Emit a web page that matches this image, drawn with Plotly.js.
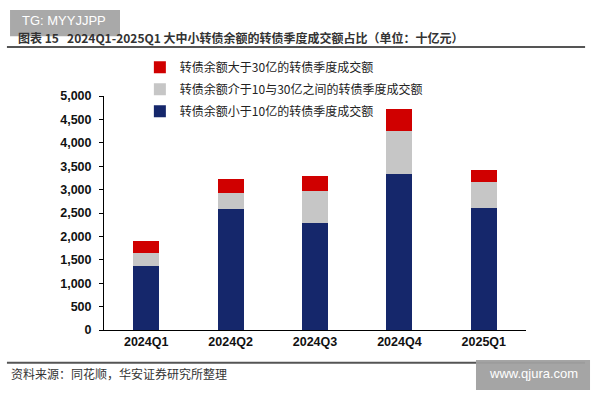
<!DOCTYPE html>
<html>
<head>
<meta charset="utf-8">
<script src="https://cdn.plot.ly/plotly-3.0.1.min.js"></script>
<style>
  html, body { margin: 0; padding: 0; background: #fff; }
  #grafico { width: 600px; height: 400px; }
</style>
</head>
<body>
<div id="grafico"></div>
<script>
"use strict";

// Categorías y valores (十亿元)
const trimestres = ['2024Q1', '2024Q2', '2024Q3', '2024Q4', '2025Q1'];
const menos10 = [1370, 2590, 2290, 3340, 2610];   // 小于10亿
const entre10y30 = [280, 333, 690, 920, 548];     // 介于10与30亿之间
const mas30 = [248, 294, 306, 470, 256];          // 大于30亿

const nombres = [
    '转债余额小于10亿的转债季度成交额',
    '转债余额介于10与30亿之间的转债季度成交额',
    '转债余额大于30亿的转债季度成交额'
];
const colores = ['#15276b', '#c6c6c6', '#d00000'];
const series = [menos10, entre10y30, mas30];

const fuenteCJK = '"Noto Sans CJK SC", "Noto Sans", sans-serif';
const fuenteNum = '"Liberation Sans", Arial, sans-serif';

// La leyenda va al revés del apilado: rojo arriba, azul abajo
const trazas = series.map((valores, i) => ({
    x: trimestres,
    y: valores,
    type: 'bar',
    name: nombres[i],
    legendgroup: 'g' + i,
    legendrank: 10 - i,
    marker: { color: colores[i] },
    hoverinfo: 'none'
}));

const layout = {
    width: 600,
    height: 400,
    barmode: 'stack',
    bargap: 0.69,
    margin: { l: 104, r: 74, t: 96, b: 70 },
    paper_bgcolor: '#ffffff',
    plot_bgcolor: '#ffffff',
    showlegend: true,
    legend: {
        x: 0.085, y: 1.185, xanchor: 'left', yanchor: 'top',
        traceorder: 'grouped',
        tracegroupgap: 3,
        font: { family: fuenteCJK, size: 12, color: '#222' },
        itemwidth: 30,
        bgcolor: 'rgba(0,0,0,0)'
    },
    xaxis: {
        showline: true, linecolor: '#000', linewidth: 1,
        ticks: '', showgrid: false,
        tickfont: { family: fuenteNum, size: 12.5, color: '#111', weight: 'bold' }
    },
    yaxis: {
        range: [0, 5000],
        dtick: 500,
        tickformat: ',d',
        showline: true, linecolor: '#000', linewidth: 1,
        ticks: 'outside', ticklen: 4, tickcolor: '#000',
        ticklabelstandoff: 5,
        showgrid: false, zeroline: false,
        tickfont: { family: fuenteNum, size: 12.5, color: '#111', weight: 'bold' }
    },
    shapes: [
        // línea bajo el título
        { type: 'line', xref: 'paper', yref: 'paper', x0: -0.230, x1: 1.140, y0: 1.209, y1: 1.209,
          line: { color: '#555', width: 2 } },
        // línea sobre la fuente
        { type: 'line', xref: 'paper', yref: 'paper', x0: -0.230, x1: 1.140, y0: -0.140, y1: -0.140,
          line: { color: '#555', width: 2 } },
        // caja marca de agua arriba
        { type: 'rect', xref: 'paper', yref: 'paper', x0: -0.2227, x1: 0.0379, y0: 1.255, y1: 1.368,
          fillcolor: '#9a9a9a', opacity: 0.85, line: { width: 0 }, layer: 'above' },
        // caja marca de agua abajo
        { type: 'rect', xref: 'paper', yref: 'paper', x0: 0.8815, x1: 1.1517, y0: -0.256, y1: -0.128,
          fillcolor: '#a0a0a0', opacity: 0.95, line: { width: 0 }, layer: 'above' }
    ],
    annotations: [
        { xref: 'paper', yref: 'paper', x: -0.208, y: 1.252, xanchor: 'left', yanchor: 'middle',
          showarrow: false,
          text: '图表 15&nbsp;&nbsp;&nbsp;2024Q1-2025Q1 大中小转债余额的转债季度成交额占比（单位：十亿元）',
          font: { family: fuenteCJK, size: 12, color: '#333', weight: 'bold' } },
        { xref: 'paper', yref: 'paper', x: -0.2, y: 1.322, xanchor: 'left', yanchor: 'middle',
          showarrow: false, text: 'TG: MYYJJPP',
          font: { family: fuenteNum, size: 13, color: '#ffffff' } },
        { xref: 'paper', yref: 'paper', x: -0.225, y: -0.188, xanchor: 'left', yanchor: 'middle',
          showarrow: false, text: '资料来源：同花顺，华安证券研究所整理',
          font: { family: fuenteCJK, size: 12, color: '#333' } },
        { xref: 'paper', yref: 'paper', x: 1.0166, y: -0.188, xanchor: 'center', yanchor: 'middle',
          showarrow: false, text: 'www.qjura.com',
          font: { family: fuenteNum, size: 13, color: '#ffffff' } }
    ]
};

const config = { displayModeBar: false, staticPlot: true };

Plotly.newPlot('grafico', trazas, layout, config);
</script>
</body>
</html>
